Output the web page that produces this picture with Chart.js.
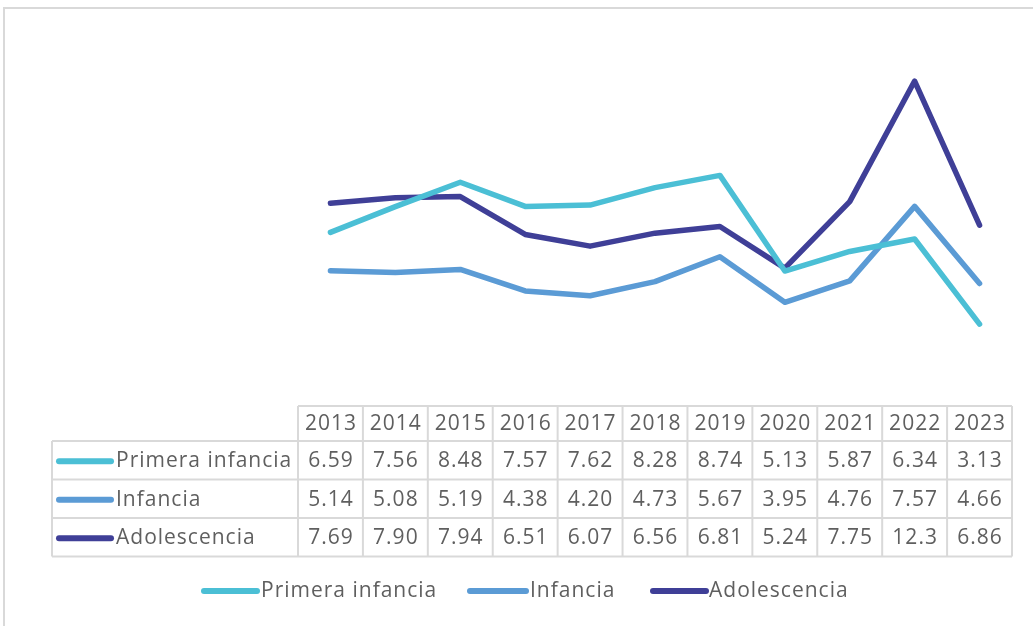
<!DOCTYPE html>
<html>
<head>
<meta charset="utf-8">
<script src="https://cdn.jsdelivr.net/npm/chart.js@4"></script>
<style>
html,body{margin:0;padding:0;background:#fff;}
#wrap{position:relative;width:1033px;height:626px;}
</style>
</head>
<body>
<div id="wrap"><canvas id="c" width="1033" height="626"></canvas></div>
<script>
const categories = ['2013','2014','2015','2016','2017','2018','2019','2020','2021','2022','2023'];
const primeraInfancia = [6.59,7.56,8.48,7.57,7.62,8.28,8.74,5.13,5.87,6.34,3.13];
const infancia = [5.14,5.08,5.19,4.38,4.20,4.73,5.67,3.95,4.76,7.57,4.66];
const adolescencia = [7.69,7.90,7.94,6.51,6.07,6.56,6.81,5.24,7.75,12.3,6.86];
const seriesNames = ['Primera infancia','Infancia','Adolescencia'];
const seriesColors = ['#4BBFD5','#5B9BD5','#3F3F97'];

const FONT = '"Open Sans", sans-serif';
const TEXT = '#5F5F5F';
const GRID = '#D9D9D9';

function drawText(ctx, s, x, y, align) {
  // letter-spaced text with proper alignment
  ctx.letterSpacing = '1px';
  ctx.textAlign = 'left';
  const w = ctx.measureText(s).width - 1;
  let sx = x;
  if (align === 'center') sx = x - w / 2;
  ctx.fillText(s, sx, y);
}

const tablePlugin = {
  id: 'dataTable',
  afterDraw(chart) {
    const ctx = chart.ctx;
    const xs = chart.scales.x;
    const area = chart.chartArea;
    const n = categories.length;
    const colW = (area.right - area.left) / n;
    const top = area.bottom - 1;
    const headH = 35;
    const rowH = 38.5;
    const tableLeft = 52;
    ctx.save();
    // outer frame (top and left)
    ctx.strokeStyle = GRID;
    ctx.lineWidth = 2;
    ctx.beginPath();
    ctx.moveTo(4, 626); ctx.lineTo(4, 8); ctx.lineTo(1033, 8);
    ctx.stroke();

    ctx.beginPath();
    ctx.moveTo(area.left, top); ctx.lineTo(area.right, top);
    for (let i = 0; i <= n; i++) {
      const x = area.left + i * colW;
      ctx.moveTo(x, top); ctx.lineTo(x, top + headH + 3 * rowH);
    }
    for (let r = 0; r <= 3; r++) {
      const y = top + headH + r * rowH;
      ctx.moveTo(tableLeft, y); ctx.lineTo(area.right, y);
    }
    ctx.moveTo(tableLeft, top + headH); ctx.lineTo(tableLeft, top + headH + 3 * rowH);
    ctx.stroke();

    ctx.fillStyle = TEXT;
    ctx.font = '21px ' + FONT;
    ctx.textBaseline = 'middle';
    categories.forEach((c, i) => {
      drawText(ctx, c, xs.getPixelForValue(i), top + headH / 2 + 1, 'center');
    });
    const data = [primeraInfancia, infancia, adolescencia];
    data.forEach((arr, r) => {
      const y = top + headH + r * rowH + rowH / 2 + 1;
      arr.forEach((v, i) => {
        drawText(ctx, v.toPrecision(3), xs.getPixelForValue(i), y, 'center');
      });
      ctx.strokeStyle = seriesColors[r];
      ctx.lineWidth = 6;
      ctx.lineCap = 'round';
      ctx.beginPath();
      ctx.moveTo(59, y); ctx.lineTo(111, y);
      ctx.stroke();
      drawText(ctx, seriesNames[r], 116, y, 'left');
    });

    // bottom legend
    const legX = [[204, 257, 261], [470, 526, 530], [653, 706, 709]];
    const ly = 591;
    seriesNames.forEach((name, r) => {
      ctx.strokeStyle = seriesColors[r];
      ctx.lineWidth = 6;
      ctx.lineCap = 'round';
      ctx.beginPath();
      ctx.moveTo(legX[r][0], ly); ctx.lineTo(legX[r][1], ly);
      ctx.stroke();
      drawText(ctx, name, legX[r][2], ly, 'left');
    });
    ctx.restore();
  }
};

new Chart(document.getElementById('c'), {
  type: 'line',
  data: {
    labels: categories,
    datasets: [
      {label: seriesNames[0], data: primeraInfancia, borderColor: seriesColors[0]},
      {label: seriesNames[1], data: infancia, borderColor: seriesColors[1]},
      {label: seriesNames[2], data: adolescencia, borderColor: seriesColors[2]}
    ].map(d => Object.assign(d, {borderWidth: 5.5, pointRadius: 0, tension: 0, fill: false, borderCapStyle: 'round', borderJoinStyle: 'round'}))
  },
  options: {
    responsive: false,
    animation: false,
    devicePixelRatio: 1,
    layout: {padding: {left: 298, right: 21, top: 36, bottom: 219}},
    plugins: {legend: {display: false}, tooltip: {enabled: false}},
    scales: {
      x: {display: false, offset: true, grid: {display: false}},
      y: {display: false, min: 0, max: 14, grid: {display: false}}
    }
  },
  plugins: [tablePlugin]
});
</script>
</body>
</html>
